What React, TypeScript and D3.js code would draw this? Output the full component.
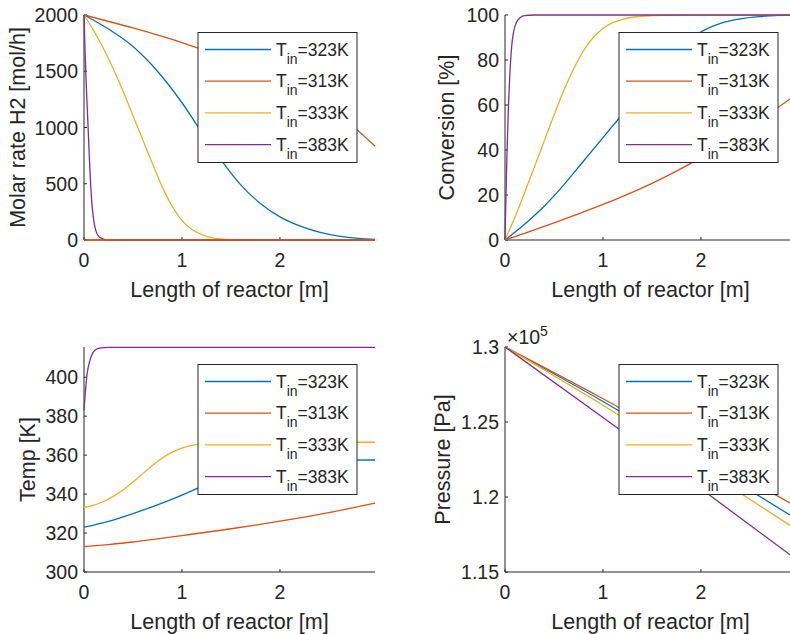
import React from "react";
import * as d3 from "d3";

type Pt = [number, number];

// ---------- data ----------
const seriesLabels = ["323", "313", "333", "383"];
const seriesColors = ["#0072BD", "#D95319", "#EDB120", "#7E2F8E"];
const xTicks = [0, 1, 2];
const xMax = 2.97;

// Molar rate H2 [mol/h]
const molar323: Pt[] = [[0, 2000], [0.25, 1875], [0.5, 1720], [0.75, 1500], [1.0, 1220], [1.2, 960], [1.4, 710], [1.6, 490], [1.8, 325], [2.0, 205], [2.2, 125], [2.4, 70], [2.6, 35], [2.8, 14], [2.97, 5]];
const molar313: Pt[] = [[0, 2000], [0.5, 1885], [1.0, 1755], [1.5, 1600], [2.0, 1420], [2.5, 1185], [2.97, 835]];
const molar333: Pt[] = [[0, 2000], [0.1, 1860], [0.2, 1700], [0.3, 1520], [0.4, 1320], [0.5, 1105], [0.6, 890], [0.7, 675], [0.8, 470], [0.9, 300], [1.0, 175], [1.1, 95], [1.2, 48], [1.3, 22], [1.4, 10], [1.55, 3], [1.7, 0], [2.97, 0]];
const molar383: Pt[] = [[0, 2000], [0.01, 1700], [0.02, 1450], [0.03, 1240], [0.04, 1040], [0.05, 830], [0.06, 630], [0.07, 460], [0.08, 330], [0.1, 170], [0.12, 85], [0.15, 32], [0.2, 8], [0.25, 0], [2.97, 0]];
const molarZero: Pt[] = [[0, 0], [2.97, 0]];
const molarTicks = [0, 500, 1000, 1500, 2000];

// Conversion [%]
const conv323: Pt[] = [[0, 0], [0.2, 7], [0.4, 15], [0.6, 24.5], [0.8, 35], [1.0, 45.5], [1.2, 56], [1.4, 66.5], [1.6, 77], [1.8, 86], [2.0, 92.5], [2.2, 96.3], [2.4, 98.3], [2.6, 99.3], [2.8, 99.8], [2.97, 100]];
const conv313: Pt[] = [[0, 0], [0.25, 3.7], [0.5, 7.6], [0.75, 11.6], [1.0, 15.8], [1.25, 20.3], [1.5, 25.2], [1.75, 30.6], [2.0, 36.6], [2.25, 43.2], [2.5, 50.3], [2.75, 57.8], [2.97, 64.5]];
const conv333: Pt[] = [[0, 0], [0.1, 10], [0.2, 21], [0.3, 32.5], [0.4, 44], [0.5, 55.5], [0.6, 66.5], [0.7, 76], [0.8, 84], [0.9, 90], [1.0, 94], [1.1, 96.6], [1.2, 98.1], [1.3, 99], [1.5, 99.7], [1.8, 100], [2.97, 100]];
const conv383: Pt[] = [[0, 0], [0.01, 20], [0.02, 38], [0.034, 58], [0.05, 74], [0.068, 86], [0.09, 93], [0.12, 97], [0.16, 99], [0.2, 99.7], [0.3, 100], [2.97, 100]];
const convTicks = [0, 20, 40, 60, 80, 100];

// Temp [K]
const temp323: Pt[] = [[0, 323], [0.25, 326], [0.5, 330], [0.75, 334.5], [1.0, 339.5], [1.2, 344], [1.4, 348.8], [1.6, 352.8], [1.8, 355.4], [2.0, 356.6], [2.3, 357.2], [2.6, 357.4], [2.97, 357.5]];
const temp313: Pt[] = [[0, 313], [0.25, 314.1], [0.5, 315.4], [0.75, 317], [1.0, 318.7], [1.25, 320.4], [1.5, 322.2], [1.75, 324.1], [2.0, 326.1], [2.25, 328.2], [2.5, 330.5], [2.75, 333], [2.97, 335.4]];
const temp333: Pt[] = [[0, 333], [0.1, 334.3], [0.2, 336.2], [0.3, 338.8], [0.4, 342.2], [0.5, 346.2], [0.6, 350.5], [0.7, 354.8], [0.8, 358.5], [0.9, 361.5], [1.0, 363.6], [1.1, 365], [1.2, 365.8], [1.35, 366.3], [1.6, 366.5], [2.97, 366.6]];
const temp383: Pt[] = [[0, 383], [0.01, 390], [0.02, 396], [0.03, 401], [0.045, 405.5], [0.06, 408.5], [0.08, 411.5], [0.1, 413.3], [0.13, 414.5], [0.17, 415.1], [0.25, 415.3], [2.97, 415.3]];
const tempTicks = [300, 320, 340, 360, 380, 400];

// Pressure [Pa] (x 1e5)
const pres323: Pt[] = [[0, 1.3], [1, 1.2637], [2, 1.2245], [2.97, 1.1855]];
const pres313: Pt[] = [[0, 1.3], [1, 1.2655], [2, 1.2293], [2.97, 1.1937]];
const pres333: Pt[] = [[0, 1.3], [1, 1.2612], [2, 1.2195], [2.97, 1.1785]];
const pres383: Pt[] = [[0, 1.3], [1, 1.253], [2, 1.2055], [2.97, 1.1585]];
const presTicks = [1.15, 1.2, 1.25, 1.3];
const presTickLabels = ["1.15", "1.2", "1.25", "1.3"];

// ---------- style ----------
const FONT = "'Liberation Sans', Arial, Helvetica, sans-serif";
const AX = "#262626";
const TICK_FS = 19.5;
const LABEL_FS = 21.5;
const LEG_FS = 17.5;

interface PanelProps {
  left: number;
  top: number;
  yDomain: [number, number];
  yTicks: number[];
  yTickLabels?: string[];
  yLabel: string;
  yLabelX: number;
  series: Pt[][];
  extra?: { data: Pt[]; color: string }[];
  exponent?: boolean;
}

const W = 291;
const H = 225;

function Panel(p: PanelProps) {
  const x = d3.scaleLinear().domain([0, xMax]).range([p.left, p.left + W]);
  const y = d3.scaleLinear().domain(p.yDomain).range([p.top + H, p.top]);
  const line = d3
    .line<Pt>()
    .x((d) => x(d[0]))
    .y((d) => y(d[1]))
    .curve(d3.curveMonotoneX);
  const bottom = p.top + H;
  const legLeft = p.left + W - 18 - 159;
  const legTop = p.top + 17.5;
  const rowStep = 31.7;
  return (
    <g>
      {/* axes */}
      <line x1={p.left} x2={p.left + W} y1={bottom} y2={bottom} stroke={AX} strokeWidth={1} />
      <line x1={p.left} x2={p.left} y1={p.top} y2={bottom} stroke={AX} strokeWidth={1} />
      {xTicks.map((t) => (
        <g key={"xt" + t}>
          <line x1={x(t)} x2={x(t)} y1={bottom} y2={bottom - 3} stroke={AX} />
          <text x={x(t)} y={bottom + 26.5} textAnchor="middle" fontSize={TICK_FS} fill={AX} fontFamily={FONT}>
            {t}
          </text>
        </g>
      ))}
      {p.yTicks.map((t, i) => (
        <g key={"yt" + t}>
          <line x1={p.left} x2={p.left + 3} y1={y(t)} y2={y(t)} stroke={AX} />
          <text x={p.left - 6} y={y(t) + 7} textAnchor="end" fontSize={TICK_FS} fill={AX} fontFamily={FONT}>
            {p.yTickLabels ? p.yTickLabels[i] : t}
          </text>
        </g>
      ))}
      <text
        x={p.left + W / 2}
        y={bottom + 57}
        textAnchor="middle"
        fontSize={LABEL_FS}
        fill={AX}
        fontFamily={FONT}
      >
        Length of reactor [m]
      </text>
      <text
        transform={`translate(${p.yLabelX},${p.top + H / 2}) rotate(-90)`}
        textAnchor="middle"
        fontSize={LABEL_FS}
        fill={AX}
        fontFamily={FONT}
      >
        {p.yLabel}
      </text>
      {p.exponent && (
        <text x={p.left + 2} y={p.top - 3} fontSize={TICK_FS} fill={AX} fontFamily={FONT}>
          ×10<tspan fontSize={14} dy={-8}>5</tspan>
        </text>
      )}
      {/* lines */}
      {p.series.map((s, i) => (
        <path key={"s" + i} d={line(s) || ""} fill="none" stroke={seriesColors[i]} strokeWidth={1.3} />
      ))}
      {p.extra &&
        p.extra.map((e, i) => (
          <path key={"e" + i} d={line(e.data) || ""} fill="none" stroke={e.color} strokeWidth={2} opacity={0.75} />
        ))}
      {/* legend */}
      <rect x={legLeft} y={legTop} width={159} height={130} fill="#fff" stroke={AX} strokeWidth={1} />
      {seriesLabels.map((lab, i) => {
        const ry = legTop + 17 + i * rowStep;
        return (
          <g key={"lg" + i}>
            <line x1={legLeft + 7} x2={legLeft + 73} y1={ry} y2={ry} stroke={seriesColors[i]} strokeWidth={1.3} />
            <text x={legLeft + 78} y={ry + 6} fontSize={LEG_FS} fill={AX} fontFamily={FONT}>
              T<tspan fontSize={14} dy={8}>in</tspan>
              <tspan fontSize={LEG_FS} dy={-8}>={lab}K</tspan>
            </text>
          </g>
        );
      })}
    </g>
  );
}

export default function App() {
  return (
    <svg
      width={790}
      height={634}
      style={{ position: "absolute", left: 0, top: 0, display: "block", background: "#fff" }}
    >
      <rect x={0} y={0} width={790} height={634} fill="#fff" />
      <Panel
        left={84}
        top={15}
        yDomain={[0, 2000]}
        yTicks={molarTicks}
        yLabel="Molar rate H2 [mol/h]"
        yLabelX={25}
        series={[molar323, molar313, molar333, molar383]}
        extra={[{ data: molarZero, color: seriesColors[1] }]}
      />
      <Panel
        left={505}
        top={15}
        yDomain={[0, 100]}
        yTicks={convTicks}
        yLabel="Conversion [%]"
        yLabelX={454}
        series={[conv323, conv313, conv333, conv383]}
      />
      <Panel
        left={84}
        top={347}
        yDomain={[300, 415.5]}
        yTicks={tempTicks}
        yLabel="Temp [K]"
        yLabelX={35}
        series={[temp323, temp313, temp333, temp383]}
      />
      <Panel
        left={505}
        top={347}
        yDomain={[1.15, 1.3]}
        yTicks={presTicks}
        yTickLabels={presTickLabels}
        yLabel="Pressure [Pa]"
        yLabelX={450}
        series={[pres323, pres313, pres333, pres383]}
        exponent
      />
    </svg>
  );
}
